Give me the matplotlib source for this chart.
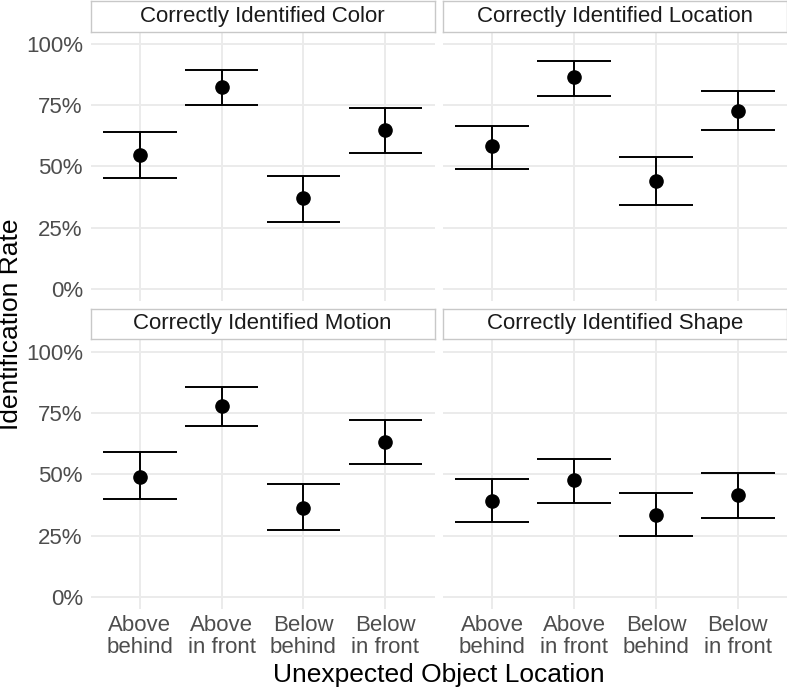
import matplotlib
matplotlib.use("Agg")
import matplotlib.pyplot as plt

plt.rcParams['font.family'] = ['Liberation Sans', 'DejaVu Sans']

categories = ["Above\nbehind", "Above\nin front", "Below\nbehind", "Below\nin front"]
panels = ["Correctly Identified Color", "Correctly Identified Location",
          "Correctly Identified Motion", "Correctly Identified Shape"]

color_mean = [0.544, 0.825, 0.370, 0.646]
color_lo = [0.453, 0.750, 0.274, 0.556]
color_hi = [0.638, 0.891, 0.460, 0.737]

location_mean = [0.581, 0.863, 0.440, 0.726]
location_lo = [0.490, 0.788, 0.343, 0.646]
location_hi = [0.665, 0.931, 0.537, 0.807]

motion_mean = [0.490, 0.780, 0.362, 0.630]
motion_lo = [0.398, 0.696, 0.274, 0.540]
motion_hi = [0.592, 0.858, 0.461, 0.722]

shape_mean = [0.389, 0.475, 0.333, 0.415]
shape_lo = [0.306, 0.382, 0.246, 0.323]
shape_hi = [0.482, 0.562, 0.422, 0.505]

yticks = [0, 0.25, 0.5, 0.75, 1.0]
ytick_labels = ["0%", "25%", "50%", "75%", "100%"]

data = [(color_mean, color_lo, color_hi), (location_mean, location_lo, location_hi),
        (motion_mean, motion_lo, motion_hi), (shape_mean, shape_lo, shape_hi)]

W, H = 787, 688
fig = plt.figure(figsize=(W / 100, H / 100), dpi=100)
fig.patch.set_facecolor('white')


def rect(x0, y0, x1, y1):
    return [x0 / W, 1 - y1 / H, (x1 - x0) / W, (y1 - y0) / H]


cols = [(90.5, 434.5), (443.0, 787.0)]
rows = [((1.0, 31.5), (31.5, 301.0)), ((308.5, 339.5), (339.5, 609.0))]

grid_c = '#EBEBEB'
for i, name in enumerate(panels):
    r, c = divmod(i, 2)
    (sx0, sx1) = cols[c]
    (st, sb), (pt, pb) = rows[r]
    ax = fig.add_axes(rect(sx0, pt, sx1, pb))
    ax.set_xlim(0.4, 4.6)
    ax.set_ylim(-0.05, 1.05)
    for s in ax.spines.values():
        s.set_visible(False)
    ax.set_yticks(yticks)
    ax.set_xticks(range(1, 5))
    ax.grid(True, color=grid_c, linewidth=1.4)
    ax.set_axisbelow(True)
    ax.tick_params(length=0, labelsize=16, labelcolor='#4D4D4D', pad=5.5)
    if c == 0:
        ax.set_yticklabels(ytick_labels)
    else:
        ax.set_yticklabels([])
    if r == 1:
        ax.set_xticklabels(categories, linespacing=1.1)
        ax.tick_params(axis='x', pad=4)
    else:
        ax.set_xticklabels([])
    mean, lo, hi = data[i]
    xs = list(range(1, 5))
    ax.vlines(xs, lo, hi, color='black', linewidth=1.4, zorder=3)
    ax.hlines(lo, [x - 0.45 for x in xs], [x + 0.45 for x in xs], color='black', linewidth=1.4, zorder=3)
    ax.hlines(hi, [x - 0.45 for x in xs], [x + 0.45 for x in xs], color='black', linewidth=1.4, zorder=3)
    ax.plot(xs, mean, 'o', color='black', markersize=9.5, zorder=4)

    sax = fig.add_axes(rect(sx0, st, sx1, sb))
    sax.set_xticks([])
    sax.set_yticks([])
    sax.set_facecolor('white')
    for s in sax.spines.values():
        s.set_color('#C8C8C8')
        s.set_linewidth(1.0)
    sax.text(0.5, 0.5, name, ha='center', va='center', fontsize=16, color='#1A1A1A',
             transform=sax.transAxes)

fig.text(438.75 / W, 1 - 682 / H, "Unexpected Object Location", ha='center', va='baseline',
         fontsize=19, color='black')
fig.text(11 / W, 1 - 324 / H, "Identification Rate", ha='center', va='center', rotation=90,
         fontsize=19, color='black')

fig.savefig("out.png", dpi=100)
